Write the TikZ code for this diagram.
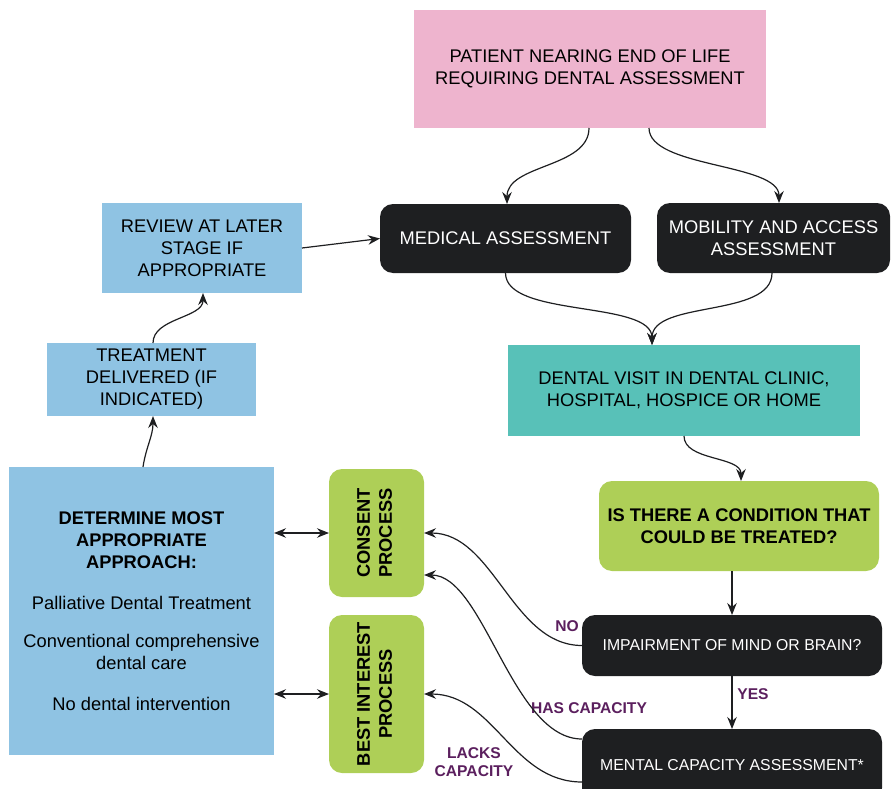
\documentclass[tikz,border=0pt]{standalone}
\usepackage{fontspec}
\usepackage{graphicx}
\setmainfont{Liberation Sans}
\usetikzlibrary{arrows.meta}
\definecolor{pinkc}{RGB}{238,180,206}
\definecolor{bluec}{RGB}{143,195,227}
\definecolor{darkc}{RGB}{30,31,33}
\definecolor{tealc}{RGB}{88,193,184}
\definecolor{greenc}{RGB}{174,207,87}
\definecolor{purplec}{RGB}{91,31,94}
\begin{document}
\begin{tikzpicture}[x=1pt,y=-1pt,
  box/.style={draw=none, inner sep=0pt, outer sep=0pt, align=center, font=\fontsize{18.3}{22}\selectfont},
  sq/.style={box, rectangle},
  rnd/.style={box, rectangle, rounded corners=13pt},
  dark/.style={rnd, fill=darkc, text=white},
  tip/.tip={Stealth[length=12pt,width=9.5pt,inset=4pt]},
  conn/.style={line width=1.2pt, draw=darkc, -tip},
  dconn/.style={line width=1.2pt, draw=darkc, tip-tip},
  lbl/.style={text=purplec, font=\fontsize{15.6}{18}\selectfont\bfseries, inner sep=0pt, align=center}]
\useasboundingbox (0,0) rectangle (891,789);
\clip (0,0) rectangle (891,789);

% nodes
\node[sq, fill=pinkc, minimum width=352pt, minimum height=118pt] (pink) at (590,69)
  {PATIENT NEARING END OF LIFE\\REQUIRING DENTAL ASSESSMENT};
\node[dark, minimum width=251pt, minimum height=69pt] (med) at (505.5,238.5)
  {MEDICAL ASSESSMENT};
\node[dark, minimum width=233pt, minimum height=70pt] (mob) at (773.5,238)
  {MOBILITY AND ACCESS\\ASSESSMENT};
\node[sq, fill=bluec, minimum width=200pt, minimum height=90pt] (review) at (202,248)
  {REVIEW AT LATER\\STAGE IF\\APPROPRIATE};
\node[sq, fill=bluec, minimum width=209pt, minimum height=73pt] (treat) at (151.5,379.5)
  {TREATMENT\\DELIVERED (IF\\INDICATED)};
\node[sq, fill=bluec, minimum width=265pt, minimum height=288pt] (det) at (141.5,611)
  {\textbf{DETERMINE MOST}\\\textbf{APPROPRIATE}\\\textbf{APPROACH:}\\[19pt]
   Palliative Dental Treatment\\[16pt]
   Conventional comprehensive\\dental care\\[19pt]
   No dental intervention};
\node[rnd, fill=greenc, minimum width=95pt, minimum height=128pt] (consent) at (376.5,533)
  {\rotatebox{90}{\bfseries\begin{tabular}{@{}c@{}}CONSENT\\PROCESS\end{tabular}}};
\node[rnd, fill=greenc, minimum width=95pt, minimum height=158pt] (best) at (376.5,694)
  {\rotatebox{90}{\bfseries\begin{tabular}{@{}c@{}}BEST INTEREST\\PROCESS\end{tabular}}};
\node[sq, fill=tealc, minimum width=352pt, minimum height=91pt] (dental) at (684,390.5)
  {DENTAL VISIT IN DENTAL CLINIC,\\HOSPITAL, HOSPICE OR HOME};
\node[rnd, fill=greenc, minimum width=280pt, minimum height=90pt, font=\fontsize{18.3}{22}\selectfont\bfseries] (cond) at (739,526)
  {IS THERE A CONDITION THAT\\COULD BE TREATED?};
\node[dark, minimum width=300pt, minimum height=61pt, font=\fontsize{15.8}{19}\selectfont] (imp) at (732,645.5)
  {IMPAIRMENT OF MIND OR BRAIN?};
\node[dark, minimum width=300pt, minimum height=72pt, font=\fontsize{15.8}{19}\selectfont] (mental) at (732,765)
  {MENTAL CAPACITY ASSESSMENT*};

% labels
\node[lbl] (lno) at (567,626) {NO};
\node[lbl] (lyes) at (753,694) {YES};
\node[lbl] (lhas) at (589,708) {HAS CAPACITY};
\node[lbl] (llacks) at (474,762) {LACKS\\CAPACITY};

% connectors
\draw[conn] ([xshift=-1pt]pink.south) .. controls +(0,40) and +(0,-40) .. ([xshift=1.5pt]med.north);
\draw[conn] ([xshift=59pt]pink.south) .. controls +(0,40) and +(0,-40) .. ([xshift=5.5pt]mob.north);
\draw[conn] (med.south) .. controls +(0,45) and +(0,-45) .. ([xshift=-32pt]dental.north);
\draw[conn] ([xshift=-1.5pt]mob.south) .. controls +(0,45) and +(0,-45) .. ([xshift=-32pt]dental.north);
\draw[conn] (dental.south) .. controls +(0,25) and +(0,-25) .. ([xshift=2pt]cond.north);
\draw[conn] (imp.north |- cond.south) -- (imp.north);
\draw[conn] (imp.south) -- (mental.north);
\draw[conn] (imp.west) .. controls +(-70,0) and +(70,0) .. (consent.east);
\draw[conn] ([yshift=26pt]mental.west) .. controls +(-70,0) and +(60,0) .. ([yshift=-42pt]consent.east);
\draw[conn] ([yshift=-17pt]mental.west) .. controls +(-70,0) and +(70,0) .. (best.east);
\draw[dconn] (det.east |- consent.west) -- (consent.west);
\draw[dconn] (det.east |- best.west) -- (best.west);
\draw[conn] ([xshift=1.5pt]det.north) .. controls +(3,-20) and +(0,20) .. ([xshift=1.5pt]treat.south);
\draw[conn] ([xshift=1.5pt]treat.north) .. controls +(0,-25) and +(0,25) .. ([xshift=1pt]review.south);
\draw[conn] (review.east) -- (med.west);
\end{tikzpicture}
\end{document}
